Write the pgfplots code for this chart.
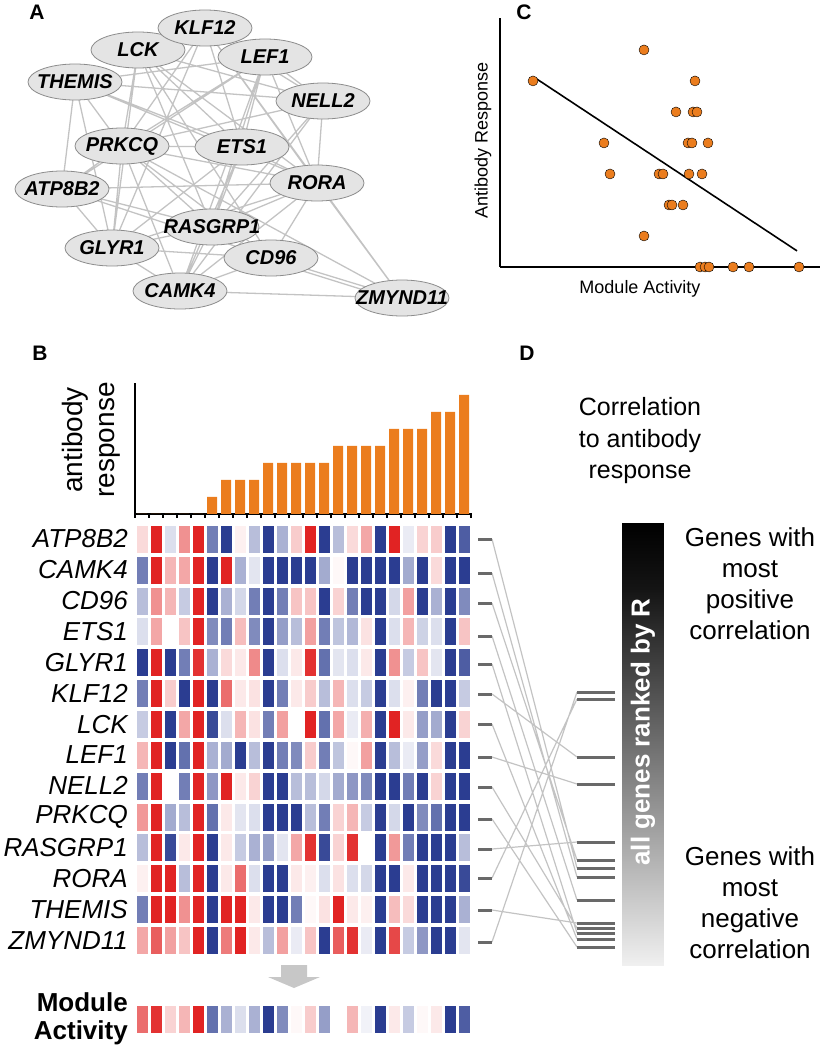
\documentclass[border=0pt]{standalone}
\usepackage{fontspec}
\setmainfont{Liberation Sans}
\usepackage{pgfplots}
\pgfplotsset{compat=1.18}
\usepackage{pgfplotstable}
\usetikzlibrary{shapes.geometric}
\definecolor{orng}{RGB}{235,125,30}
\definecolor{edgec}{RGB}{195,195,195}
\definecolor{nodefill}{RGB}{228,228,228}
\definecolor{nodedraw}{RGB}{140,140,140}
\definecolor{dashc}{RGB}{105,105,105}

% heat map: one row per sample (column of the map), one column per gene
\pgfplotstableread{
s ATP CAM CD9 ETS GLY KLF LCK LEF NEL PRK RAS ROR THE ZMY MOD
0 0.5 -2 -1 -0.5 -3 -2 -0.8 1 -2 1.4 -1 0.2 -2 1.2 2
1 3 3 1.5 1.2 3 3 3 3 3 3 3 3 3 2.2 2.8
2 -0.5 1 1 0 -3 0.7 -3 -3 0 -1.3 -2.8 3 3 1.3 0.6
3 1.5 1.2 -0.8 0.8 -2 -3 1.2 -2.2 -2 -1 0.3 -1 1.5 0.8 1
4 3 3 3 3 2.8 3 3 3 3 3 3 3 3 3 3
5 -2 -3 -3 -1.8 -1.2 -3 -2.8 -1.2 -1.6 -2.2 -3 -3 -3 -3 -2.2
6 -3 3 -1.2 -2 0.5 2 -0.5 -1.3 3 0.3 0.3 0.3 3 1.8 -1.2
7 0.2 -1.2 -0.6 0.9 0.3 0.3 1 -3 0.3 -0.4 -0.8 2 3 3 -0.5
8 -1 -0.4 -2 -1.8 1.6 0.4 0.4 -1 0.6 -0.5 -1.2 -0.5 0.3 0.3 -1.2
9 -3 -3 -3 -3 -3 -3 -2 -3 -3 -3 -1.5 -3 -3 -1 -3
10 -1.2 -3 -2 -1.5 -0.5 -2 1.3 -2 -3 -3 -0.4 -3 -3 1.3 -1.8
11 0.7 -3 0.8 -1 0.3 0.3 0 -1.8 -1 -3 1.2 0.3 -2 -0.3 0.1
12 3 -3 0.8 1.3 2.8 0.7 3 0.7 -1 -1 2.8 0.2 0.1 0.8 0.7
13 -3 -1.3 -3 -2 -2.2 -1 -2.2 -2 -0.6 -2 -2.8 -0.5 0.4 -3 -1.5
14 -1 0.1 0.6 -0.9 -0.4 1 1.2 -0.9 -1.3 0.6 0.6 0.4 3 2.2 0
15 0.5 -3 -2 -1.1 -0.5 -0.5 -0.3 0.1 -1.6 1 2.8 -0.5 0.3 2.8 1
16 1.2 -3 -3 0.4 0.3 -0.8 1.1 1.3 -1.8 -0.8 0 -0.6 0.2 -0.3 -0.2
17 -3 -3 -3 -3 -3 -3 -3 -3 -3 -3 -3 -3 -3 -3 -3
18 3 -3 -0.6 -0.5 1.5 -0.5 3 -1 -3 -0.6 1.4 -3 0.9 2.5 0.3
19 -0.3 -1.3 1.3 1 -0.8 0.2 0.3 -0.3 -2 -3 -2 0.3 0.5 -0.8 -0.8
20 0.6 -3 -3 -0.7 0.8 -2 -1.5 -1.5 -3 -1.8 -3 -3 -3 -1.6 0.1
21 0.7 0.5 -1.2 -0.5 -0.4 -3 -1.3 0.5 0.6 -2.2 -3 -3 -3 -3 0.3
22 -3 -3 -3 -3 -3 -3 -3 -3 -3 -3 -3 -3 -3 -3 -3
23 -2.5 -3 -1.8 0.8 -2.5 -0.8 0.6 -3 -3 -3 -1 -2.8 -1.2 -0.4 -2.5
}\heat

% antibody response per sample
\pgfplotstableread{
s r
0 0
1 0
2 0
3 0
4 0
5 1
6 2
7 2
8 2
9 3
10 3
11 3
12 3
13 3
14 4
15 4
16 4
17 4
18 5
19 5
20 5
21 6
22 6
23 7
}\resp

% scatter: module activity vs antibody response
\pgfplotstableread{
x y
33 6
144 7
195 6
176 5
193 5
197 5
104 4
188 4
192 4
208 4
110 3
159 3
163 3
189 3
202 3
169 2
172 2
183 2
144 1
200 0
205 0
209 0
233 0
249 0
299 0
}\scat

% network nodes (pixel layout)
\pgfplotstableread{
x y name
138 50 LCK
205 28 KLF12
265 57 LEF1
75 82 THEMIS
323 101 NELL2
122 146 PRKCQ
242 147 ETS1
317 183 RORA
62 189 ATP8B2
212 227 RASGRP1
112 248 GLYR1
271 258 CD96
180 291 CAMK4
402 298 ZMYND11
}\nodes

% network edges
\pgfplotstableread{
x y
75 82
323 101
nan nan
75 82
265 57
nan nan
75 82
62 189
nan nan
75 82
122 146
nan nan
75 82
242 147
nan nan
75 82
317 183
nan nan
75 82
112 248
nan nan
138 50
122 146
nan nan
138 50
242 147
nan nan
138 50
317 183
nan nan
138 50
323 101
nan nan
138 50
112 248
nan nan
138 50
271 258
nan nan
138 50
212 227
nan nan
205 28
122 146
nan nan
205 28
242 147
nan nan
205 28
317 183
nan nan
205 28
112 248
nan nan
205 28
323 101
nan nan
205 28
402 298
nan nan
265 57
122 146
nan nan
265 57
242 147
nan nan
265 57
212 227
nan nan
265 57
180 291
nan nan
265 57
323 101
nan nan
265 57
317 183
nan nan
265 57
62 189
nan nan
323 101
122 146
nan nan
323 101
212 227
nan nan
323 101
180 291
nan nan
323 101
317 183
nan nan
122 146
242 147
nan nan
122 146
62 189
nan nan
122 146
112 248
nan nan
122 146
212 227
nan nan
122 146
180 291
nan nan
122 146
317 183
nan nan
122 146
271 258
nan nan
122 146
402 298
nan nan
242 147
317 183
nan nan
242 147
212 227
nan nan
242 147
112 248
nan nan
242 147
180 291
nan nan
62 189
317 183
nan nan
62 189
112 248
nan nan
62 189
212 227
nan nan
62 189
271 258
nan nan
317 183
212 227
nan nan
317 183
180 291
nan nan
317 183
402 298
nan nan
317 183
112 248
nan nan
317 183
271 258
nan nan
212 227
112 248
nan nan
212 227
180 291
nan nan
112 248
180 291
nan nan
112 248
271 258
nan nan
271 258
180 291
nan nan
271 258
402 298
nan nan
274 262
402 302
nan nan
180 291
402 298
}\edges

% links between gene rows and their rank positions
\pgfplotstableread{
x y
492 539
577 868
nan nan
492 573
577 877
nan nan
492 603
577 860
nan nan
492 636
577 900
nan nan
492 664
577 933
nan nan
492 694
577 757
nan nan
492 724
577 939
nan nan
492 757
577 784
nan nan
492 787
577 928
nan nan
492 819
577 947
nan nan
492 849
577 842
nan nan
492 878
577 699
nan nan
492 910
577 923
nan nan
492 942
577 692
}\links

\pgfplotstableread{
x y
485 539
485 573
485 603
485 636
485 664
485 694
485 724
485 757
485 787
485 819
485 849
485 878
485 910
485 942
}\ldash

\pgfplotstableread{
x y
596 692
596 699
596 757
596 784
596 842
596 860
596 868
596 877
596 900
596 923
596 928
596 933
596 939
596 947
}\rdash

\pgfplotsset{
  cell/.style={scatter, only marks, mark=square*, mark size=5pt,
    point meta=explicit,
    scatter/use mapped color={draw=mapped color, fill=mapped color},
    every mark/.append style={yscale=2.6, line width=0.2pt}},
}

\begin{document}
\begin{tikzpicture}
\path[use as bounding box] (0pt,0pt) rectangle (820pt,1050pt);

% ---------- overlay axis in pixel units ----------
\begin{axis}[at={(0pt,0pt)}, anchor=south west, scale only axis,
  width=820pt, height=1050pt, xmin=0, xmax=820, ymin=0, ymax=1050,
  y dir=reverse, hide axis, clip=false,
  point meta min=0, point meta max=1]
\addplot[edgec, line width=1.3pt, unbounded coords=jump] table[x=x,y=y] {\edges};
\addplot[only marks, mark=none, point meta=explicit symbolic,
  nodes near coords={\makebox[0pt]{\pgfplotspointmeta}},
  nodes near coords align={center},
  nodes near coords style={ellipse, draw=nodedraw, fill=nodefill, line width=0.8pt,
    minimum width=94pt, minimum height=36pt, inner sep=0pt, text=black,
    font=\fontsize{20}{20}\selectfont\bfseries\itshape}]
  table[x=x, y=y, meta=name] {\nodes};
\addplot[edgec, line width=1.2pt, unbounded coords=jump] table[x=x,y=y] {\links};
\addplot[only marks, mark=-, mark size=7pt, mark options={line width=3pt, draw=dashc}] table[x=x,y=y] {\ldash};
\addplot[only marks, mark=-, mark size=19pt, mark options={line width=3pt, draw=dashc}] table[x=x,y=y] {\rdash};
\addplot[patch, patch type=rectangle, shader=interp, point meta=explicit,
  colormap={grad}{color(0pt)=(black) color(15pt)=(black!92) color(100pt)=(black!6)}]
  coordinates {(622,523) [0] (663,523) [0] (663,965) [1] (622,965) [1]};
\addplot[fill=black!22, draw=none] coordinates {(281,965) (307,965) (307,977) (320,977) (294,988) (268,977) (281,977)} -- cycle;

\node[font=\fontsize{26}{26}\selectfont\bfseries, text=white, rotate=90] at (axis cs:643,732) {all genes ranked by R};
\node[font=\fontsize{21}{21}\selectfont\bfseries] at (axis cs:37,12) {A};
\node[font=\fontsize{21}{21}\selectfont\bfseries] at (axis cs:524,12) {C};
\node[font=\fontsize{21}{21}\selectfont\bfseries] at (axis cs:40,353) {B};
\node[font=\fontsize{21}{21}\selectfont\bfseries] at (axis cs:527,353) {D};
\node[align=center, font=\fontsize{25}{31.5}\selectfont] at (axis cs:640,441) {Correlation\\to antibody\\response};
\node[align=center, font=\fontsize{26}{31}\selectfont] at (axis cs:750,584) {Genes with\\most\\positive\\correlation};
\node[align=center, font=\fontsize{26}{31}\selectfont] at (axis cs:750,903) {Genes with\\most\\negative\\correlation};
\end{axis}

% ---------- C: scatter ----------
\begin{axis}[at={(500pt,783pt)}, anchor=south west, scale only axis,
  width=320pt, height=249pt, xmin=0, xmax=320, ymin=0, ymax=8.03,
  axis lines*=left, axis line style={line width=1.6pt},
  ticks=none, clip=false,
  xlabel={Module Activity}, ylabel={Antibody Response},
  label style={font=\fontsize{18}{18}\selectfont},
  xlabel style={at={(axis description cs:0.4375,-0.088)}, anchor=center},
  ylabel style={at={(axis description cs:-0.053,0.51)}, anchor=center}]
\addplot[only marks, mark=*, mark size=5pt, mark options={fill=orng, draw=none}] table[x=x,y=y] {\scat};
\addplot[black, line width=1.6pt] coordinates {(35,6.1) (297,0.52)};
\end{axis}

% ---------- B: antibody response bars ----------
\begin{axis}[at={(135pt,536pt)}, anchor=south west, scale only axis,
  width=337pt, height=131pt, xmin=-0.5, xmax=23.57, ymin=0, ymax=7.7,
  axis lines*=left, axis line style={line width=1.6pt},
  ytick=\empty, xtick={-0.5,0.5,...,23.5},
  xticklabel style={opacity=0},
  xtick align=outside, major tick length=4pt,
  tick style={line width=1.2pt, black},
  ylabel={antibody\\response},
  ylabel style={align=center, font=\fontsize{28}{32}\selectfont,
    at={(axis description cs:-0.13,0.565)}, anchor=center}]
\addplot[ybar, bar width=10pt, fill=orng, draw=none] table[x=s,y=r] {\resp};
\end{axis}

% ---------- B: heat map ----------
\begin{axis}[at={(135pt,526.4pt)}, anchor=north west, scale only axis,
  width=336pt, height=515.2pt, xmin=-0.5, xmax=23.5, ymin=-0.5, ymax=16.2,
  y dir=reverse, axis line style={draw=none}, xtick=\empty,
  ytick={0,...,13},
  yticklabels={ATP8B2,CAMK4,CD96,ETS1,GLYR1,KLF12,LCK,LEF1,NELL2,PRKCQ,RASGRP1,RORA,THEMIS,ZMYND11},
  major tick length=0pt, tick style={draw=none},
  yticklabel style={font=\fontsize{26}{26}\selectfont\itshape, anchor=east, inner sep=0pt, xshift=-7pt},
  clip=false,
  colormap={rb}{rgb255=(43,61,145) rgb255=(255,255,255) rgb255=(225,35,35)},
  point meta min=-3, point meta max=3]
\addplot[cell] table[x=s, y expr=0, meta=ATP] {\heat};
\addplot[cell] table[x=s, y expr=1, meta=CAM] {\heat};
\addplot[cell] table[x=s, y expr=2, meta=CD9] {\heat};
\addplot[cell] table[x=s, y expr=3, meta=ETS] {\heat};
\addplot[cell] table[x=s, y expr=4, meta=GLY] {\heat};
\addplot[cell] table[x=s, y expr=5, meta=KLF] {\heat};
\addplot[cell] table[x=s, y expr=6, meta=LCK] {\heat};
\addplot[cell] table[x=s, y expr=7, meta=LEF] {\heat};
\addplot[cell] table[x=s, y expr=8, meta=NEL] {\heat};
\addplot[cell] table[x=s, y expr=9, meta=PRK] {\heat};
\addplot[cell] table[x=s, y expr=10, meta=RAS] {\heat};
\addplot[cell] table[x=s, y expr=11, meta=ROR] {\heat};
\addplot[cell] table[x=s, y expr=12, meta=THE] {\heat};
\addplot[cell] table[x=s, y expr=13, meta=ZMY] {\heat};
\addplot[cell] table[x=s, y expr=15.56, meta=MOD] {\heat};
\node[anchor=east, align=right, inner sep=0pt, xshift=-7pt,
  font=\fontsize{26}{28}\selectfont\bfseries] at (axis cs:-0.5,15.56) {Module\\Activity};
\end{axis}
\end{tikzpicture}
\end{document}
